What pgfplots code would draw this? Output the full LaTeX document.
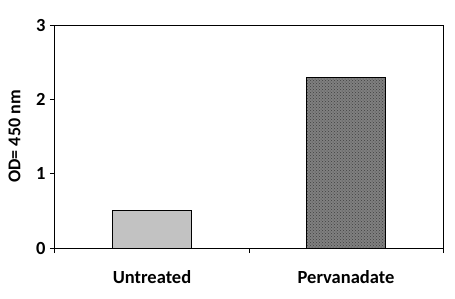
\documentclass[border=0pt]{standalone}
\usepackage{fontspec}
\setmainfont{Carlito}
\usepackage{pgfplots}
\pgfplotsset{compat=1.18}
\usetikzlibrary{patterns,calc}
\begin{document}
\begin{tikzpicture}
\begin{axis}[
  scale only axis,
  width=388pt, height=223pt,
  xmin=-0.5, xmax=1.5,
  ymin=0, ymax=3,
  ytick={0,1,2,3},
  xtick={-0.5,0.5,1.5},
  xticklabels={},
  extra x ticks={0,1},
  extra x tick labels={Untreated,Pervanadate},
  extra x tick style={major tick length=0pt, tick label style={yshift=-19pt}},
  tick align=outside,
  major tick length=5pt,
  tick pos=left,
  tick style={black, line width=1pt},
  axis line style={black, line width=1pt},
  /pgf/number format/assume math mode=true,
  tick label style={font=\fontsize{18.5}{20}\selectfont\bfseries},
  yticklabel style={xshift=-1pt},
  ylabel={OD= 450 nm},
  ylabel style={font=\fontsize{18}{20}\selectfont\bfseries, at={(rel axis cs:0,0.5)}, anchor=south, yshift=31pt},
  ybar, bar width=79pt,
  clip=false,
]
\addplot[draw=black, line width=1pt, fill=black!24, bar shift=0pt] coordinates {(0,0.51)};
\addplot[draw=black, line width=1pt, fill=black!50, bar shift=0pt,
  postaction={pattern=crosshatch dots, pattern color=black!75}] coordinates {(1,2.29)};
\end{axis}
\pgfresetboundingbox
\path ($(current axis.south west)+(-55pt,-50pt)$) rectangle ($(current axis.north east)+(12pt,25pt)$);
\end{tikzpicture}
\end{document}
